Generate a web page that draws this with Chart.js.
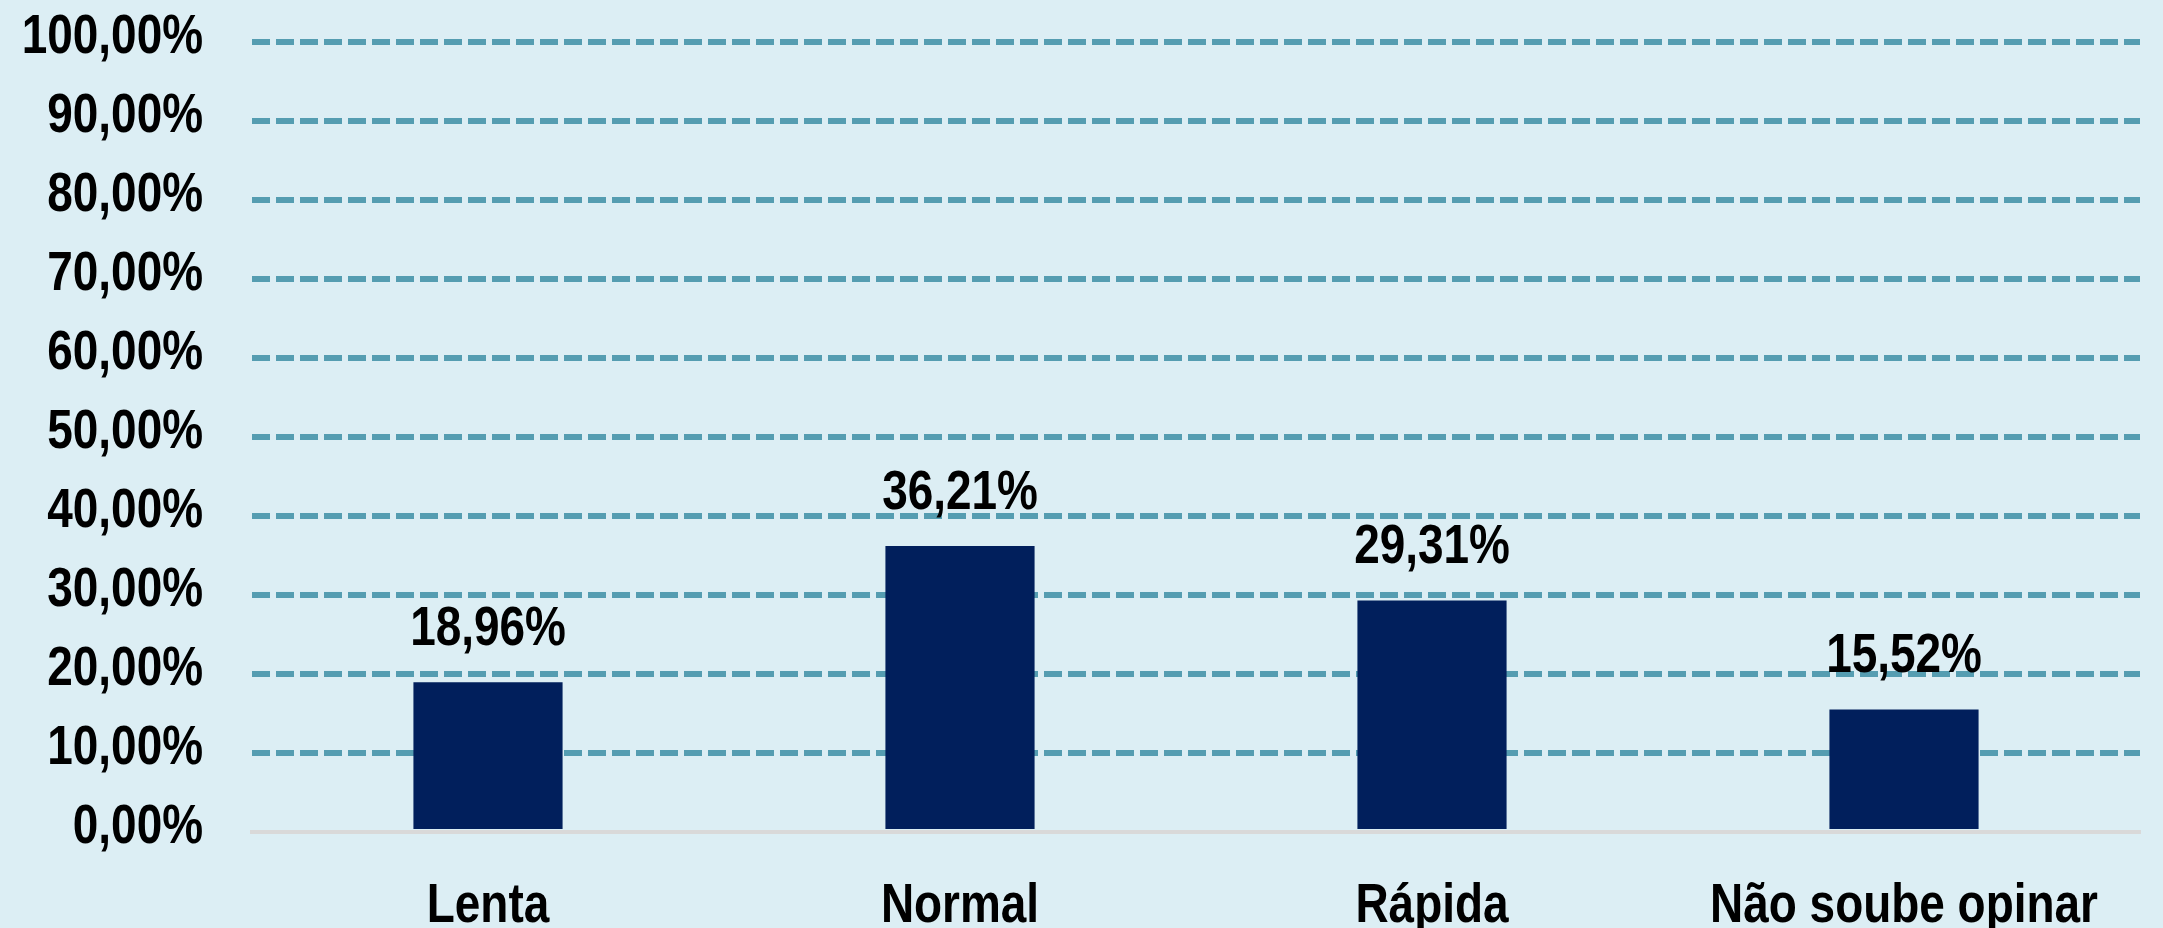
<!DOCTYPE html>
<html>
<head>
<meta charset="utf-8">
<script src="https://cdn.jsdelivr.net/npm/chart.js@4.4.1/dist/chart.umd.min.js"></script>
<style>
    html, body { margin: 0; padding: 0; background: #dceef4; }
    #wrap { width: 2163px; height: 928px; }
</style>
</head>
<body>
<div id="wrap"><canvas id="chart"></canvas></div>
<script>
// ─── Data ─────────────────────────────────────────────────────────────────
const categories = ['Lenta', 'Normal', 'Rápida', 'Não soube opinar'];
const shares     = [18.96, 36.21, 29.31, 15.52];
const yTicks     = [0, 10, 20, 30, 40, 50, 60, 70, 80, 90, 100];

const FONT      = "'Liberation Sans', Arial, sans-serif";
const FONT_SIZE = 56;
const NARROW    = 0.82;            // horizontal squeeze, mimics Arial Narrow
const BAR_COLOR = '#011f5c';
const GRID      = '#559db1';
const AXIS      = '#d9d9d9';

const pct = v => v.toFixed(2).replace('.', ',') + '%';

// ─── Narrow label rendering ───────────────────────────────────────────────

/** Draw a scale's own label items, squeezed horizontally (dy nudges them). */
function drawNarrowLabels(scale, area, dy = 0) {
    const ctx = scale.ctx;
    for (const item of scale.getLabelItems(area)) {
        const o = item.options;
        ctx.save();
        ctx.translate(o.translation[0], o.translation[1] + dy);
        ctx.rotate(o.rotation);
        ctx.scale(NARROW, 1);
        ctx.font         = item.font.string;
        ctx.fillStyle    = o.color;
        ctx.textAlign    = o.textAlign;
        ctx.textBaseline = o.textBaseline;
        ctx.fillText(item.label, 0, item.textOffset);
        ctx.restore();
    }
}

class NarrowCategoryScale extends Chart.CategoryScale {
    drawLabels(area) { drawNarrowLabels(this, area); }
}
NarrowCategoryScale.id       = 'narrowCategory';
NarrowCategoryScale.defaults = Chart.CategoryScale.defaults;

class NarrowLinearScale extends Chart.LinearScale {
    drawLabels(area) { drawNarrowLabels(this, area, -4); }
}
NarrowLinearScale.id       = 'narrowLinear';
NarrowLinearScale.defaults = Chart.LinearScale.defaults;

Chart.register(NarrowCategoryScale, NarrowLinearScale);

// Value labels above each bar
const valueLabels = {
    id: 'valueLabels',
    afterDatasetsDraw(chart) {
        const ctx  = chart.ctx;
        const meta = chart.getDatasetMeta(0);
        meta.data.forEach((bar, i) => {
            ctx.save();
            ctx.translate(bar.x, bar.y - 37);
            ctx.scale(NARROW, 1);
            ctx.fillStyle    = '#000';
            ctx.font         = `bold ${FONT_SIZE}px ${FONT}`;
            ctx.textAlign    = 'center';
            ctx.textBaseline = 'alphabetic';
            ctx.fillText(pct(shares[i]), 0, 0);
            ctx.restore();
        });
    },
};

// ─── Chart ────────────────────────────────────────────────────────────────

new Chart(document.getElementById('chart'), {
    type: 'bar',
    data: {
        labels: categories,
        datasets: [{
            data:               shares,
            backgroundColor:    BAR_COLOR,
            categoryPercentage: 1,
            barPercentage:      0.316,
        }],
    },
    options: {
        responsive:          true,
        maintainAspectRatio: false,
        animation:           false,
        layout: { padding: { top: 42, right: 23, left: 0, bottom: 0 } },
        plugins: {
            legend:  { display: false },
            tooltip: { enabled: false },
        },
        scales: {
            x: {
                type:   'narrowCategory',
                grid:   { display: false },
                border: { display: true, color: AXIS, width: 4 },
                ticks:  {
                    color: '#000',
                    font: { family: FONT, size: FONT_SIZE, weight: 'bold' },
                    padding: 33,
                    maxRotation: 0,
                    autoSkip: false,
                },
                afterFit: s => { s.height = 96; s.paddingLeft = 0; s.paddingRight = 0; },
            },
            y: {
                type: 'narrowLinear',
                min: 0,
                max: 100,
                afterBuildTicks: s => { s.ticks = yTicks.map(v => ({ value: v })); },
                grid: {
                    drawTicks: false,
                    color:     c => c.tick.value === 0 ? 'rgba(0,0,0,0)' : GRID,
                    lineWidth: 6,
                },
                border: { display: false, dash: [18, 6] },
                ticks:  {
                    color: '#000',
                    padding: 49,
                    font: { family: FONT, size: FONT_SIZE, weight: 'bold' },
                    callback: v => pct(v),
                },
                afterFit: s => { s.width = 252; s.paddingTop = 0; s.paddingBottom = 0; },
            },
        },
    },
    plugins: [valueLabels],
});
</script>
</body>
</html>
